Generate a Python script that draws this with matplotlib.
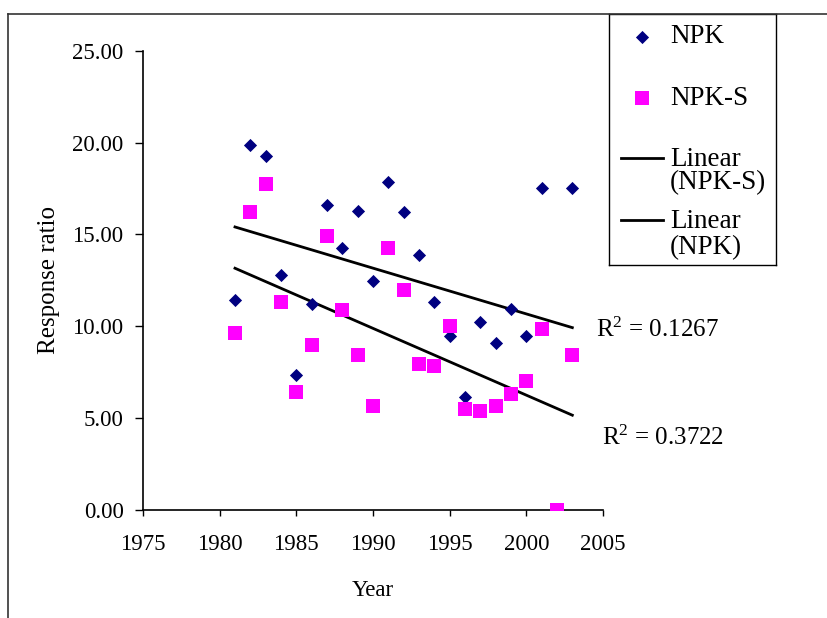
import matplotlib.pyplot as plt
import numpy as np
from matplotlib.lines import Line2D

plt.rcParams['font.family'] = ['Liberation Serif', 'DejaVu Serif']
plt.rcParams['mathtext.fontset'] = 'custom'
plt.rcParams['mathtext.rm'] = 'Liberation Serif'
plt.rcParams['mathtext.it'] = 'Liberation Serif'

# values (NPK 2002 sits under the NPK-S square at 0)
years = np.arange(1981, 2004)
npk = [11.4, 19.9, 19.3, 12.8, 7.35, 11.2, 16.6, 14.25, 16.3, 12.45, 17.85, 16.2,
       13.9, 11.3, 9.45, 6.15, 10.2, 9.1, 10.95, 9.45, 17.55, 0.0, 17.55]
npk_s = [9.64, 16.2, 17.75, 11.33, 6.43, 8.99, 14.92, 10.9, 8.44, 5.66, 14.27, 11.98,
         7.95, 7.84, 10.02, 5.48, 5.39, 5.66, 6.3, 7.01, 9.84, 0.0, 8.42]
r2_labels = ['R$^2$ = 0.1267', 'R$^2$ = 0.3722']

W, H = 828, 618
fig = plt.figure(figsize=(W / 100, H / 100), dpi=100)

# outer frame (top and left edges only visible)
fig.add_artist(Line2D([8 / W, 1], [1 - 13.5 / H] * 2, transform=fig.transFigure, color='#333333', lw=1.2))
fig.add_artist(Line2D([8 / W] * 2, [0, 1 - 13.5 / H], transform=fig.transFigure, color='#333333', lw=1.2))

ax = fig.add_axes([143 / W, (H - 509.5) / H, 460 / W, 458.5 / H])
ax.scatter(years, npk, marker='D', s=45, color='#000080', zorder=3, linewidths=0)
ax.scatter(years, npk_s, marker='s', s=90, color='#FF00FF', zorder=3, linewidths=0)

# linear trendlines
for vals in (npk, npk_s):
    k, b = np.polyfit(years, vals, 1)
    xs = np.array([years[0], years[-1]])
    ax.plot(xs, k * xs + b, color='black', lw=2.0, zorder=2)

ax.text(2004.55, 9.8, r2_labels[0], fontsize=18, va='center', ha='left', clip_on=False)
ax.text(2004.95, 3.9, r2_labels[1], fontsize=18, va='center', ha='left', clip_on=False)

ax.set_xlim(1975, 2005)
ax.set_ylim(0, 25)
ax.set_xticks(np.arange(1975, 2006, 5))
ax.set_yticks(np.arange(0, 26, 5))
ax.set_yticklabels([f'{v:.2f}' for v in np.arange(0, 26, 5)])
ax.tick_params(direction='out', width=1, labelsize=16.5)
ax.tick_params(axis='y', length=6, pad=8)
ax.tick_params(axis='x', length=4.5, pad=13)
for s in ('top', 'right'):
    ax.spines[s].set_visible(False)
for s in ('left', 'bottom'):
    ax.spines[s].set_linewidth(1.2)
ax.set_xlabel('Year', fontsize=16.5, labelpad=18)
ax.set_ylabel('Response ratio', fontsize=18, labelpad=9)

# legend box drawn by hand
lx, ly, lw_, lh = 609, 14, 167, 251
lg = fig.add_axes([lx / W, (H - ly - lh) / H, lw_ / W, lh / H])
lg.set_xlim(0, lw_)
lg.set_ylim(lh, 0)
lg.set_xticks([])
lg.set_yticks([])
for s in lg.spines.values():
    s.set_linewidth(1.0)
lg.scatter([33], [22.7], marker='D', s=45, color='#000080', linewidths=0)
lg.scatter([33], [84.3], marker='s', s=90, color='#FF00FF', linewidths=0)
lg.plot([11.7, 54.3], [144.3, 144.3], color='black', lw=2.0)
lg.plot([11.7, 54.3], [206, 206], color='black', lw=2.0)
fs = 19.5
lg.text(61, 22.7, 'NPK', fontsize=fs, va='center')
lg.text(61, 84.3, 'NPK-S', fontsize=fs, va='center')
lg.text(61, 145, 'Linear', fontsize=fs, va='center')
lg.text(61, 169, '(NPK-S)', fontsize=fs, va='center')
lg.text(61, 207, 'Linear', fontsize=fs, va='center')
lg.text(61, 233.5, '(NPK)', fontsize=fs, va='center')

fig.savefig('out.png', dpi=100)
